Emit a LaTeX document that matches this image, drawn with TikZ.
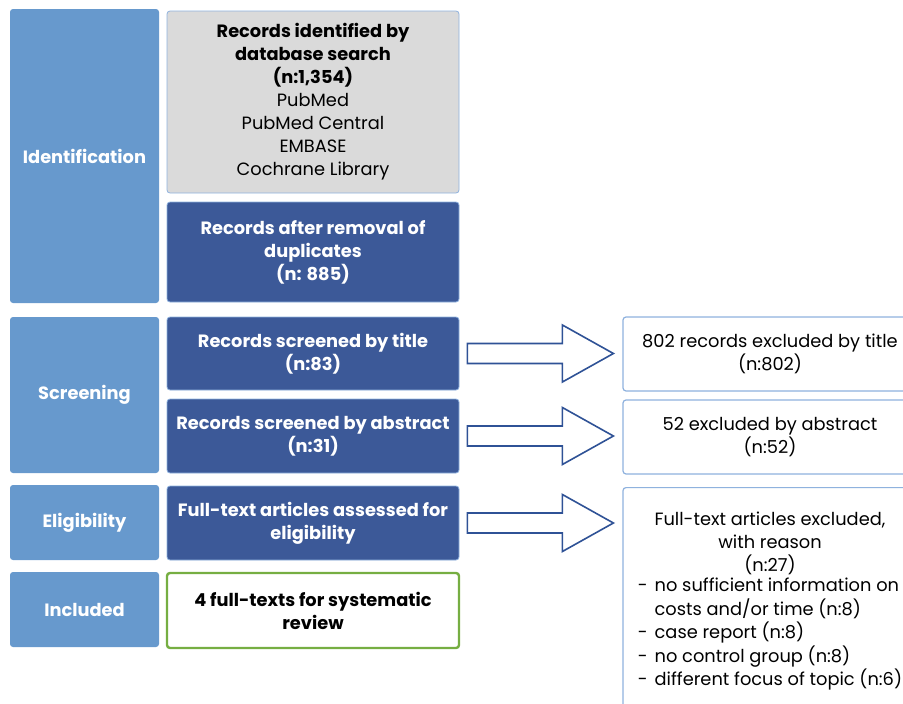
\documentclass[tikz,border=0pt]{standalone}
\usepackage{fontspec}
\setmainfont{Poppins}
\usetikzlibrary{calc}
\definecolor{stageblue}{RGB}{103,153,205}
\definecolor{darkblue}{RGB}{60,89,152}
\definecolor{lightgray}{RGB}{218,218,218}
\definecolor{edgeblue}{RGB}{143,178,222}
\definecolor{arrowblue}{RGB}{47,82,150}
\definecolor{okgreen}{RGB}{118,174,66}
\newcommand{\boxfont}{\fontsize{17.8}{23}\selectfont}
\tikzset{
  stage/.style={rounded corners=3pt, fill=stageblue, text=white,
    font=\boxfont\bfseries, minimum width=149pt, align=center},
  recbox/.style={rounded corners=3pt, fill=darkblue, draw=edgeblue, line width=0.8pt,
    text=white, font=\boxfont\bfseries, minimum width=292pt, align=center},
  exbox/.style={rounded corners=3pt, fill=white, draw=edgeblue, line width=1.2pt,
    font=\boxfont, minimum width=294pt, align=center},
  blockarrow/.style={draw=arrowblue, line width=1.6pt, fill=white, line join=miter}
}
\begin{document}
\begin{tikzpicture}[x=1pt,y=-1pt]
  \useasboundingbox (0,0) rectangle (903,704);
  % stages
  \node[stage, minimum height=294pt] (ident) at (84.5,156) {Identification};
  \node[stage, minimum height=156pt] (screen) at (84.5,395) {Screening};
  \node[stage, minimum height=75pt] (elig) at (84.5,522.5) {Eligibility};
  \node[stage, minimum height=75pt] (incl) at (84.5,609.5) {Included};
  % records
  \node[recbox, fill=lightgray, text=black, font=\boxfont, minimum height=182pt] (search) at (313,102)
    {\textbf{Records identified by}\\ \textbf{database search}\\ \textbf{(n:1,354)}\\ PubMed\\ PubMed Central\\ EMBASE\\ Cochrane Library};
  \node[recbox, minimum height=100pt] (dups) at (313,252) {Records after removal of\\ duplicates\\ (n: 885)};
  \node[recbox, minimum height=73pt] (title) at (313,353.5) {Records screened by title\\ (n:83)};
  \node[recbox, minimum height=74pt] (abstract) at (313,436) {Records screened by abstract\\ (n:31)};
  \node[recbox, minimum height=74pt] (fulltext) at (313,523) {Full-text articles assessed for\\ eligibility};
  \node[recbox, fill=white, draw=okgreen, line width=2.4pt, text=black, minimum height=75pt] (final) at (313,610.5)
    {4 full-texts for systematic\\ review};
  % exclusions
  \node[exbox, minimum height=74pt] (extitle) at (770,354) {802 records excluded by title\\ (n:802)};
  \node[exbox, minimum height=74pt] (exabstract) at (770,437) {52 excluded by abstract\\ (n:52)};
  \node[exbox, anchor=north, inner ysep=24pt] (exfull) at (770,487)
    {Full-text articles excluded,\\ with reason\\ (n:27)\\
     {\begin{tabular}{@{}l@{\hspace{7pt}}l@{}}
       - & no sufficient information on\\
         & costs and/or time (n:8)\\
       - & case report (n:8)\\
       - & no control group (n:8)\\
       - & different focus of topic (n:6)
     \end{tabular}}};
  % block arrows
  \foreach \a/\b in {title/extitle, abstract/exabstract, fulltext/exfull}
    \draw[blockarrow] ($(\a.east)+(8,-10)$) -- ++(95,0) -- ++(0,-18.5)
      -- ($(\b.west |- \a.east)+(-9,0)$) -- ($(\a.east)+(103,28.5)$)
      -- ++(0,-18.5) -- ($(\a.east)+(8,10)$) -- cycle;
\end{tikzpicture}
\end{document}
